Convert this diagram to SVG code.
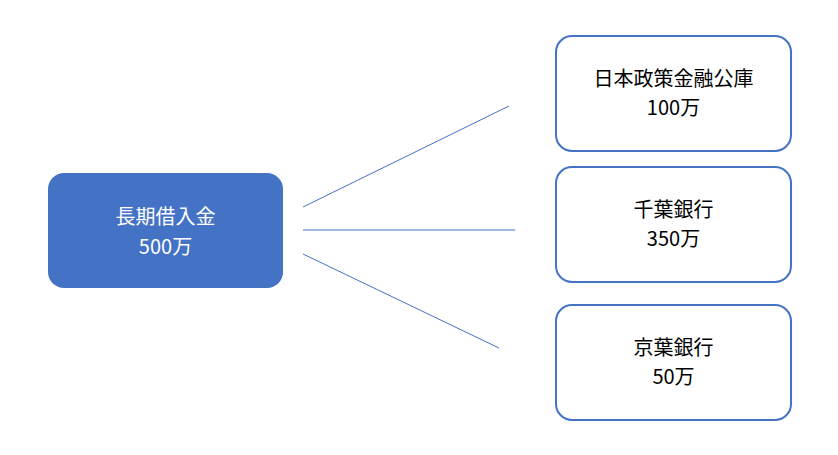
<svg xmlns="http://www.w3.org/2000/svg" width="838" height="455" viewBox="0 0 838 455">
<style>
text{font-family:"Noto Sans CJK JP","Noto Sans",sans-serif;font-size:20px;text-anchor:middle}
.r{fill:#fff;stroke:#4472C4;stroke-width:2}
.c line{stroke:#4472C4;stroke-width:1}
</style>
<rect width="838" height="455" fill="#fff"/>
<g id="n0"><rect x="48" y="173" width="235" height="115" rx="16" fill="#4472C4"/>
<text x="165.5" y="224" fill="#fff">長期借入金</text><text x="165.5" y="254" fill="#fff">500万</text></g>
<g id="n1"><rect class="r" x="556" y="36" width="235" height="115" rx="16"/>
<text x="673.5" y="86">日本政策金融公庫</text><text x="673.5" y="115">100万</text></g>
<g id="n2"><rect class="r" x="556" y="167" width="235" height="115" rx="16"/>
<text x="673.5" y="217">千葉銀行</text><text x="673.5" y="246">350万</text></g>
<g id="n3"><rect class="r" x="556" y="305" width="235" height="115" rx="16"/>
<text x="673.5" y="355">京葉銀行</text><text x="673.5" y="384">50万</text></g>
<g class="c"><line x1="303" y1="207" x2="509" y2="106"/><line x1="303" y1="230" x2="515" y2="230"/><line x1="303" y1="254" x2="499" y2="348"/></g>
</svg>
